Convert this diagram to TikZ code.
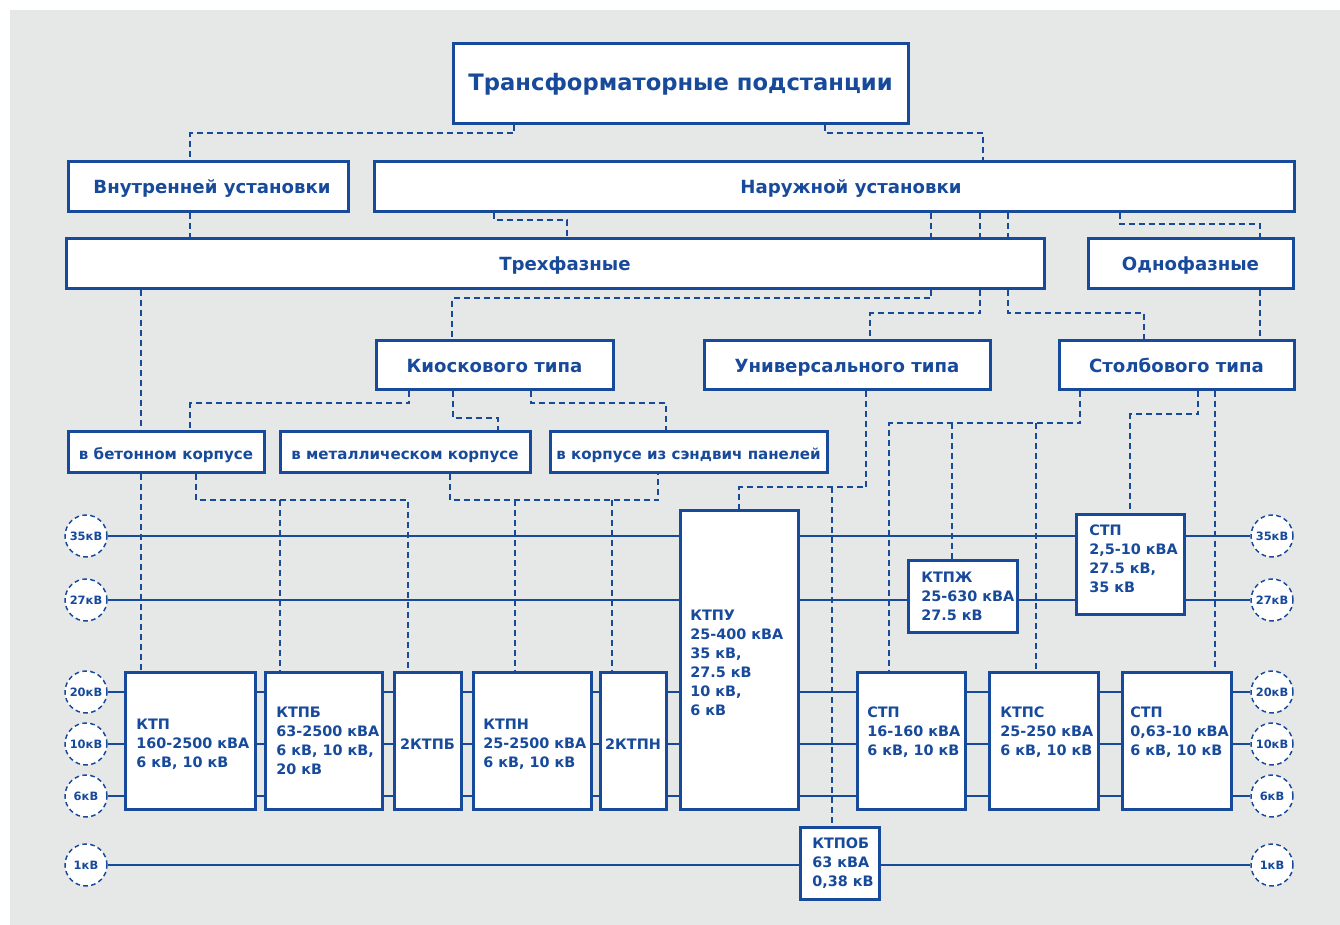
\documentclass[tikz,border=0pt]{standalone}
\usepackage{fontspec}
\setmainfont{DejaVu Sans}
\usetikzlibrary{fit}
\definecolor{bl}{RGB}{24,74,155}
\definecolor{gr}{RGB}{230,231,231}
\pgfdeclarelayer{bg}\pgfdeclarelayer{ln}\pgfsetlayers{bg,ln,main}
\begin{document}
\begin{tikzpicture}[x=0.75pt,y=-0.75pt,
  box/.style={draw=bl, line width=2.25pt, fill=white, inner sep=0pt},
  ctext/.style={text=bl, inner sep=0pt, text height=0.73em, text depth=0pt, yshift=-2pt},
  ttl/.style={ctext, font=\fontsize{17}{20}\selectfont\bfseries},
  hd/.style={ctext, font=\fontsize{13.6}{16}\selectfont\bfseries},
  sub/.style={ctext, font=\fontsize{11.3}{13}\selectfont\bfseries},
  lbl/.style={text=bl, font=\fontsize{10.8}{14.2}\selectfont\bfseries, align=left, inner sep=0pt, anchor=west},
  vc/.style={circle, draw=bl, fill=white, line width=1.1pt, dash pattern=on 3.5pt off 2.5pt, minimum size=31.5pt, inner sep=0pt, text=bl, font=\fontsize{8.6}{10}\selectfont\bfseries},
  bus/.style={draw=bl, line width=1.1pt},
  dl/.style={draw=bl, line width=1.4pt, dash pattern=on 4.5pt off 3pt}]
\useasboundingbox (0,0) rectangle (1340,925);
\begin{pgfonlayer}{bg}
  \fill[gr] (10,10) rectangle (1340,925);
\end{pgfonlayer}

% header boxes
\node[box, fit={(453,43)(908,123)}] (title) {};
\node[ttl] (titleT) at (title.center) {Трансформаторные подстанции};
\node[box, fit={(68,161)(348,211)}] (inner) {};
\node[hd] (innerT) at ([xshift=3]inner.center) {Внутренней установки};
\node[box, fit={(374,161)(1294,211)}] (outer) {};
\node[hd] (outerT) at (851,186) {Наружной установки};
\node[box, fit={(66,238)(1044,288)}] (three) {};
\node[hd] (threeT) at (565,263) {Трехфазные};
\node[box, fit={(1088,238)(1293,288)}] (one) {};
\node[hd] (oneT) at (one.center) {Однофазные};
\node[box, fit={(376,340)(613,389)}] (kiosk) {};
\node[hd] (kioskT) at (kiosk.center) {Киоскового типа};
\node[box, fit={(704,340)(990,389)}] (univ) {};
\node[hd] (univT) at (univ.center) {Универсального типа};
\node[box, fit={(1059,340)(1294,389)}] (pole) {};
\node[hd] (poleT) at (pole.center) {Столбового типа};
\node[box, fit={(68,431)(264,472)}] (beton) {};
\node[sub] (betonT) at (beton.center) {в бетонном корпусе};
\node[box, fit={(280,431)(530,472)}] (metal) {};
\node[sub] (metalT) at (metal.center) {в металлическом корпусе};
\node[box, fit={(550,431)(827,472)}] (sand) {};
\node[sub] (sandT) at (sand.center) {в корпусе из сэндвич панелей};

% voltage circles
\foreach \v/\y in {35/536,27/600,20/692,10/744,6/796,1/865}{
  \node[vc] (l\v) at (86,\y) {\v кВ};
  \node[vc] (r\v) at (1272,\y) {\v кВ};
}
\begin{pgfonlayer}{ln}
\foreach \v in {35,27,20,10,6,1}{ \draw[bus] (l\v) -- (r\v); }
\end{pgfonlayer}

% lower boxes
\node[box, fit={(125,672)(255,809)}] (ktp) {};
\node[box, fit={(265,672)(382,809)}] (ktpb) {};
\node[box, fit={(394,672)(461,809)}] (ktpbb) {};
\node[box, fit={(473,672)(591,809)}] (ktpn) {};
\node[box, fit={(600,672)(666,809)}] (ktpnn) {};
\node[box, fit={(680,510)(798,809)}] (ktpu) {};
\node[box, fit={(800,827)(879,899)}] (ktpob) {};
\node[box, fit={(857,672)(965,809)}] (stpa) {};
\node[box, fit={(989,672)(1098,809)}] (ktps) {};
\node[box, fit={(1122,672)(1231,809)}] (stpc) {};
\node[box, fit={(908,560)(1017,632)}] (ktpzh) {};
\node[box, fit={(1076,514)(1184,614)}] (stpb) {};

\node[lbl] (ktpT) at (136,744) {КТП\\160-2500 кВА\\6 кВ, 10 кВ};
\node[lbl] (ktpbT) at (276,741) {КТПБ\\63-2500 кВА\\6 кВ, 10 кВ,\\20 кВ};
\node[lbl, anchor=center] (ktpbbT) at ([yshift=-3]ktpbb.center) {2КТПБ};
\node[lbl] (ktpnT) at (483,744) {КТПН\\25-2500 кВА\\6 кВ, 10 кВ};
\node[lbl, anchor=center] (ktpnnT) at ([yshift=-3]ktpnn.center) {2КТПН};
\node[lbl] (ktpuT) at (690,663) {КТПУ\\25-400 кВА\\35 кВ,\\27.5 кВ\\10 кВ,\\6 кВ};
\node[lbl] (ktpobT) at (812,863) {КТПОБ\\63 кВА\\0,38 кВ};
\node[lbl] (stpaT) at (867,732) {СТП\\16-160 кВА\\6 кВ, 10 кВ};
\node[lbl] (ktpsT) at (1000,732) {КТПС\\25-250 кВА\\6 кВ, 10 кВ};
\node[lbl] (stpcT) at (1130,732) {СТП\\0,63-10 кВА\\6 кВ, 10 кВ};
\node[lbl] (ktpzhT) at (921,596) {КТПЖ\\25-630 кВА\\27.5 кВ};
\node[lbl] (stpbT) at (1089,559) {СТП\\2,5-10 кВА\\27.5 кВ,\\35 кВ};

% dashed connectors
\begin{pgfonlayer}{ln}
\draw[dl] (514,0 |- title.south) -- (514,133) -- (190,133) -- (190,0 |- inner.north);
\draw[dl] (825,0 |- title.south) -- (825,133) -- (983,133) -- (983,0 |- outer.north);
\draw[dl] (190,0 |- inner.south) -- (190,0 |- three.north);
\draw[dl] (494,0 |- outer.south) -- (494,220) -- (567,220) -- (567,0 |- three.north);
\draw[dl] (931,0 |- outer.south) -- (931,0 |- three.north);
\draw[dl] (980,0 |- outer.south) -- (980,0 |- three.north);
\draw[dl] (1008,0 |- outer.south) -- (1008,0 |- three.north);
\draw[dl] (1120,0 |- outer.south) -- (1120,224) -- (1260,224) -- (1260,0 |- one.north);
\draw[dl] (1260,0 |- one.south) -- (1260,0 |- pole.north);
\draw[dl] (931,0 |- three.south) -- (931,298) -- (452,298) -- (452,0 |- kiosk.north);
\draw[dl] (980,0 |- three.south) -- (980,313) -- (870,313) -- (870,0 |- univ.north);
\draw[dl] (1008,0 |- three.south) -- (1008,313) -- (1144,313) -- (1144,0 |- pole.north);
\draw[dl] (141,0 |- three.south) -- (141,0 |- beton.north);
\draw[dl] (409,0 |- kiosk.south) -- (409,403) -- (190,403) -- (190,0 |- beton.north);
\draw[dl] (453,0 |- kiosk.south) -- (453,418) -- (498,418) -- (498,0 |- metal.north);
\draw[dl] (531,0 |- kiosk.south) -- (531,403) -- (666,403) -- (666,0 |- sand.north);
\draw[dl] (141,0 |- beton.south) -- (141,0 |- ktp.north);
\draw[dl] (196,0 |- beton.south) -- (196,500) -- (408,500) -- (408,0 |- ktpbb.north);
\draw[dl] (280,500) -- (280,0 |- ktpb.north);
\draw[dl] (450,0 |- metal.south) -- (450,500) -- (658,500) -- (658,0 |- sand.south);
\draw[dl] (515,500) -- (515,0 |- ktpn.north);
\draw[dl] (612,500) -- (612,0 |- ktpnn.north);
\draw[dl] (866,0 |- univ.south) -- (866,487) -- (739,487) -- (739,0 |- ktpu.north);
\draw[dl] (832,487) -- (832,0 |- ktpob.north);
\draw[dl] (1080,0 |- pole.south) -- (1080,423) -- (889,423) -- (889,0 |- stpa.north);
\draw[dl] (952,423) -- (952,0 |- ktpzh.north);
\draw[dl] (1036,423) -- (1036,0 |- ktps.north);
\draw[dl] (1198,0 |- pole.south) -- (1198,414) -- (1130,414) -- (1130,0 |- stpb.north);
\draw[dl] (1215,0 |- pole.south) -- (1215,0 |- stpc.north);
\end{pgfonlayer}
\end{tikzpicture}
\end{document}
